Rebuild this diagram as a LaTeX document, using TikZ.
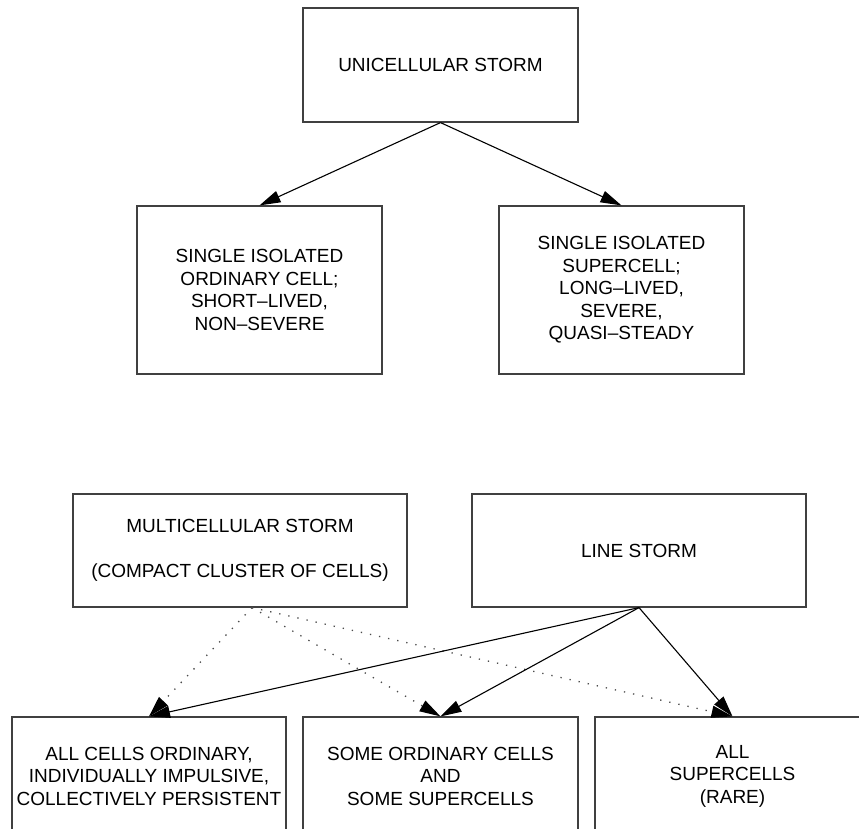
\documentclass[tikz,border=0pt]{standalone}
\usepackage{fontspec}
\setmainfont{Liberation Sans}
\usetikzlibrary{arrows.meta,calc}
\tikzset{
  box/.style={draw=black!75, line width=1.2pt, rectangle, align=center, inner sep=0pt,
    font=\fontsize{19}{22.5}\selectfont},
  conn/.style={line width=1.1pt, -{Triangle[length=21pt,width=12pt]}},
  dots/.style={line width=1.3pt, draw=black!70, dash pattern=on 1.3pt off 8pt,
    -{Triangle[length=21pt,width=12pt,color=black,fill=black]}}
}
\begin{document}
\begin{tikzpicture}[x=1pt,y=-1pt]
\path[use as bounding box, clip] (0,0) rectangle (859,829);
\fill[white] (0,0) rectangle (859,829);
% upper section
\node[box, minimum width=275pt, minimum height=114pt] (uni) at (440.5,65) {UNICELLULAR STORM};
\node[box, minimum width=245pt, minimum height=168pt] (ord) at (259.5,290)
  {SINGLE ISOLATED\\ORDINARY CELL;\\SHORT--LIVED,\\NON--SEVERE};
\node[box, minimum width=245pt, minimum height=168pt] (sup) at (621.5,290)
  {SINGLE ISOLATED\\SUPERCELL;\\LONG--LIVED,\\SEVERE,\\QUASI--STEADY};
\draw[conn] (uni.south) -- (ord.north);
\draw[conn] (uni.south) -- (sup.north);
% lower section
\node[box, minimum width=334pt, minimum height=113pt] (multi) at (240,550.5)
  {MULTICELLULAR STORM\\[23pt](COMPACT CLUSTER OF CELLS)};
\node[box, minimum width=334pt, minimum height=113pt] (line) at (639,550.5) {LINE STORM};
\node[box, minimum width=274pt, minimum height=118pt] (allord) at (149,776)
  {ALL CELLS ORDINARY,\\INDIVIDUALLY IMPULSIVE,\\COLLECTIVELY PERSISTENT};
\node[box, minimum width=275pt, minimum height=118pt] (some) at (440.5,776)
  {SOME ORDINARY CELLS\\AND\\SOME SUPERCELLS};
\node[box, minimum width=275pt, minimum height=118pt] (allsup) at (732.5,776)
  {ALL\\SUPERCELLS\\(RARE)};
\coordinate (mo) at ($(multi.south)+(12,0)$);
\draw[dots] (mo) -- (allord.north);
\draw[dots] (mo) -- (some.north);
\draw[dots] (mo) -- (allsup.north);
\draw[conn] (line.south) -- (allord.north);
\draw[conn] (line.south) -- (some.north);
\draw[conn] (line.south) -- (allsup.north);
\end{tikzpicture}
\end{document}
